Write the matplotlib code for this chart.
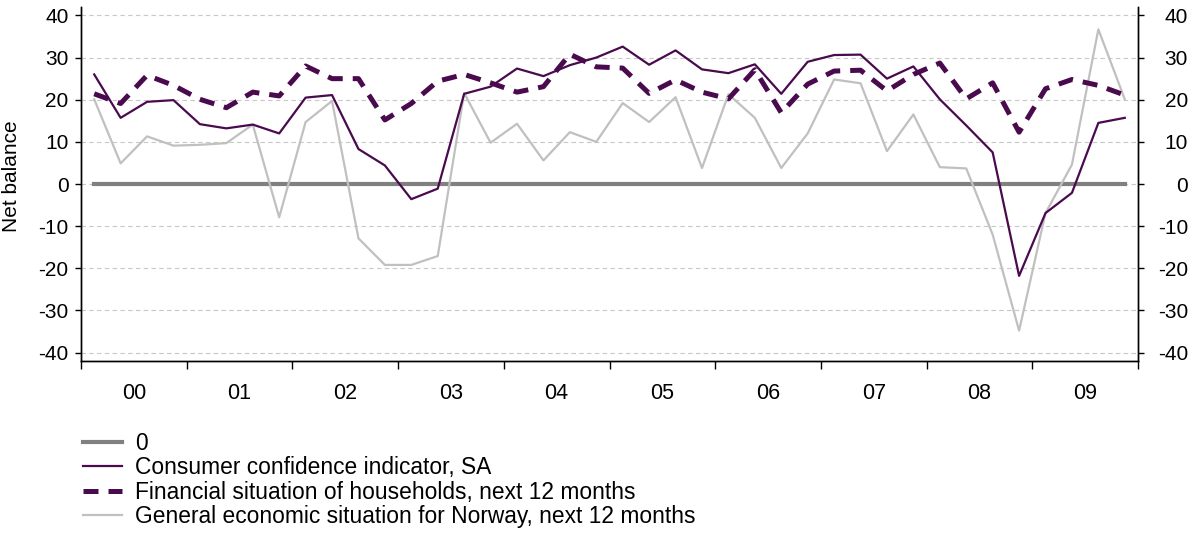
import numpy as np
import matplotlib
matplotlib.use("Agg")
import matplotlib.pyplot as plt

plt.rcParams["font.family"] = ["Liberation Sans", "DejaVu Sans"]

# -----------------------------------
# DATA (quarterly, 2000 Q1 - 2009 Q4)
# -----------------------------------
years = ["00", "01", "02", "03", "04", "05", "06", "07", "08", "09"]

consumer = [26.0, 15.7, 19.5, 19.9, 14.2, 13.2, 14.1, 12.0, 20.5, 21.1,
            8.3, 4.4, -3.6, -1.1, 21.4, 23.1, 27.4, 25.6, 28.2, 30.0,
            32.6, 28.3, 31.7, 27.2, 26.3, 28.4, 21.4, 29.0, 30.6, 30.7,
            25.0, 27.9, 20.1, 13.9, 7.5, -21.8, -6.9, -2.1, 14.5, 15.7]

financial = [21.4, 19.1, 25.8, 23.4, 20.1, 18.1, 21.8, 20.9, 28.0, 25.0,
             25.0, 15.2, 19.1, 24.4, 26.0, 24.0, 21.8, 23.1, 30.8, 27.8,
             27.5, 21.5, 24.7, 21.8, 20.2, 27.1, 16.9, 23.7, 26.8, 27.0,
             22.1, 26.0, 28.7, 20.2, 24.0, 12.3, 22.6, 24.8, 23.4, 21.1]

general = [20.1, 4.9, 11.3, 9.1, 9.3, 9.7, 14.1, -7.9, 14.7, 19.7,
           -12.9, -19.2, -19.2, -17.1, 21.6, 9.8, 14.3, 5.6, 12.3, 10.0,
           19.2, 14.7, 20.6, 3.8, 21.3, 15.7, 3.8, 12.0, 24.8, 23.9,
           7.8, 16.5, 4.0, 3.7, -12.0, -34.8, -6.9, 4.6, 36.7, 20.1]

zero = [0] * len(consumer)

purple = "#4a0a4e"
lightgray = "#c0c0c0"
darkgray = "#808080"

x = np.arange(len(consumer))

fig = plt.figure(figsize=(11.92, 5.39), dpi=100)
ax = fig.add_axes([81 / 1192, 1 - 361 / 539, (1138 - 81) / 1192, (361 - 7) / 539])

ax.plot(x, zero, color=darkgray, lw=3, label="0", zorder=2)
ax.plot(x, consumer, color=purple, lw=1.6, label="Consumer confidence indicator, SA", zorder=4)
ax.plot(x, financial, color=purple, lw=3.6, linestyle=(0, (3, 2)),
        label="Financial situation of households, next 12 months", zorder=3)
ax.plot(x, general, color=lightgray, lw=1.6,
        label="General economic situation for Norway, next 12 months", zorder=2.5)

ax.set_xlim(-0.5, len(consumer) - 0.5)
ax.set_ylim(-42, 42)

yt = np.arange(-40, 41, 10)
ax.set_yticks(yt)
ax.set_yticklabels([str(v) for v in yt], fontsize=15)
for v in yt:
    ax.axhline(v, color="#c8c8c8", lw=0.8, linestyle=(0, (4, 3)), zorder=1)

# year boundaries as ticks, labels at year centres
ax.set_xticks(np.arange(-0.5, len(consumer), 4))
ax.set_xticklabels([])
ax.set_xticks(np.arange(1.5, len(consumer), 4), minor=True)
ax.set_xticklabels(years, minor=True, fontsize=15.5)
ax.tick_params(axis="x", which="major", length=6, width=1, direction="out")
ax.tick_params(axis="x", which="minor", length=0, pad=16)
ax.tick_params(axis="y", length=4, width=1, direction="out", pad=5)

# y label sits a bit above the axes centre in the original
fig.text(12 / 1192, 1 - 176 / 539, "Net balance", rotation=90,
         ha="center", va="center", fontsize=15)

ax2 = ax.twinx()
ax2.set_ylim(ax.get_ylim())
ax2.set_yticks(yt)
ax2.set_yticklabels([str(v) for v in yt], fontsize=15, ha="right")
ax2.tick_params(axis="y", length=4, width=1, direction="out", pad=32)

for a in (ax, ax2):
    a.spines["top"].set_visible(False)
    for s in ("left", "right", "bottom"):
        a.spines[s].set_linewidth(1)
        a.spines[s].set_color("black")

h, l = ax.get_legend_handles_labels()
fig.legend(h, l, loc="upper left", bbox_to_anchor=(83 / 1192, 1 - 432 / 539),
           frameon=False, fontsize=16.4, handlelength=1.7, handletextpad=0.57,
           labelspacing=0.06, borderaxespad=0, borderpad=0)

fig.savefig("out.png", dpi=100)
